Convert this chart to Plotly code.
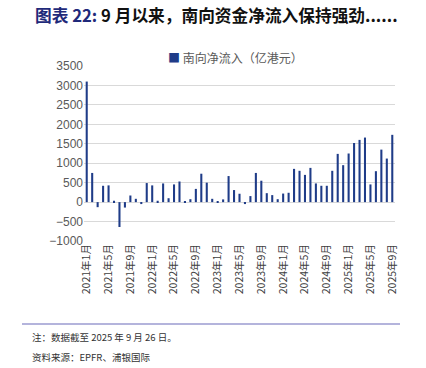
import plotly.graph_objects as go

months = [f"{y}年{m}月" for y in range(2021, 2026) for m in range(1, 13)][:57]
values = [3100, 750, -130, 420, 430, 35, -640, -140, 170, 85, -50, 490,
          430, 35, 480, 100, 455, 530, 5, 75, 340, 730, 500, 85,
          5, 70, 670, 310, 215, -50, 155, 750, 550, 230, 180, 75,
          220, 240, 855, 805, 700, 880, 480, 420, 420, 805, 1240, 950,
          1250, 1520, 1600, 1660, 455, 795, 1350, 1120, 1730]
tick_labels = months[::4]
y_ticks = [-1000, -500, 0, 500, 1000, 1500, 2000, 2500, 3000, 3500]
series_name = "南向净流入（亿港元）"

W, H = 426, 368
L, R, T, B = 84, 31, 66, 127
pw, ph = W - L - R, H - T - B

def px(x):  # window pixels -> paper
    return (x - L) / pw

def py(y):
    return (H - B - y) / ph

font = "Noto Sans CJK SC"
bar_color = "#1F3C88"

fig = go.Figure()
fig.add_trace(go.Bar(x=months, y=values, name=series_name, showlegend=False,
                     marker=dict(color=bar_color, line=dict(width=0))))

fig.update_layout(
    width=W, height=H,
    margin=dict(l=L, r=R, t=T, b=B),
    paper_bgcolor="white", plot_bgcolor="white",
    bargap=0.62,
    showlegend=False,
    xaxis=dict(type="category", tickvals=tick_labels, ticktext=tick_labels,
               tickangle=-90, tickfont=dict(family=font, size=10.5, color="#404040"),
               showgrid=False, showline=False, ticks="", zeroline=False,
               automargin=False),
    yaxis=dict(range=[-1000, 3500], tickvals=y_ticks,
               tickfont=dict(family="Liberation Sans", size=12, color="#595959"),
               showgrid=True, gridcolor="#D9D9D9", gridwidth=1,
               zeroline=True, zerolinecolor="#D9D9D9", zerolinewidth=1,
               showline=False, ticks="", fixedrange=True, automargin=False),
    annotations=[
        dict(xref="paper", yref="paper", x=px(33), y=py(15), xanchor="left", yanchor="middle",
             showarrow=False,
             text="<span style='color:#1F2A7A'><b>图表 22:</b></span><b> 9 月以来，南向资金净流入保持强劲......</b>",
             font=dict(family=font, size=16.7, color="#111111")),
        dict(xref="paper", yref="paper", x=px(166), y=py(57), xanchor="left", yanchor="middle",
             showarrow=False,
             text=f"<span style='color:{bar_color}'>■</span> {series_name}",
             font=dict(family=font, size=12, color="#595959")),
        dict(xref="paper", yref="paper", x=px(30), y=py(337), xanchor="left", yanchor="middle",
             showarrow=False, text="注：数据截至 2025 年 9 月 26 日。",
             font=dict(family=font, size=9.5, color="#333333")),
        dict(xref="paper", yref="paper", x=px(30), y=py(357), xanchor="left", yanchor="middle",
             showarrow=False, text="资料来源：EPFR、浦银国际",
             font=dict(family=font, size=9.5, color="#333333")),
    ],
    shapes=[dict(type="line", xref="paper", yref="paper", x0=px(22), x1=px(400),
                 y0=py(324), y1=py(324), line=dict(color="#9B9BD0", width=1.5))],
)

fig.write_html("out.html", config={"displayModeBar": False},
               post_script="document.body.style.margin='0';document.body.style.overflow='hidden';")
